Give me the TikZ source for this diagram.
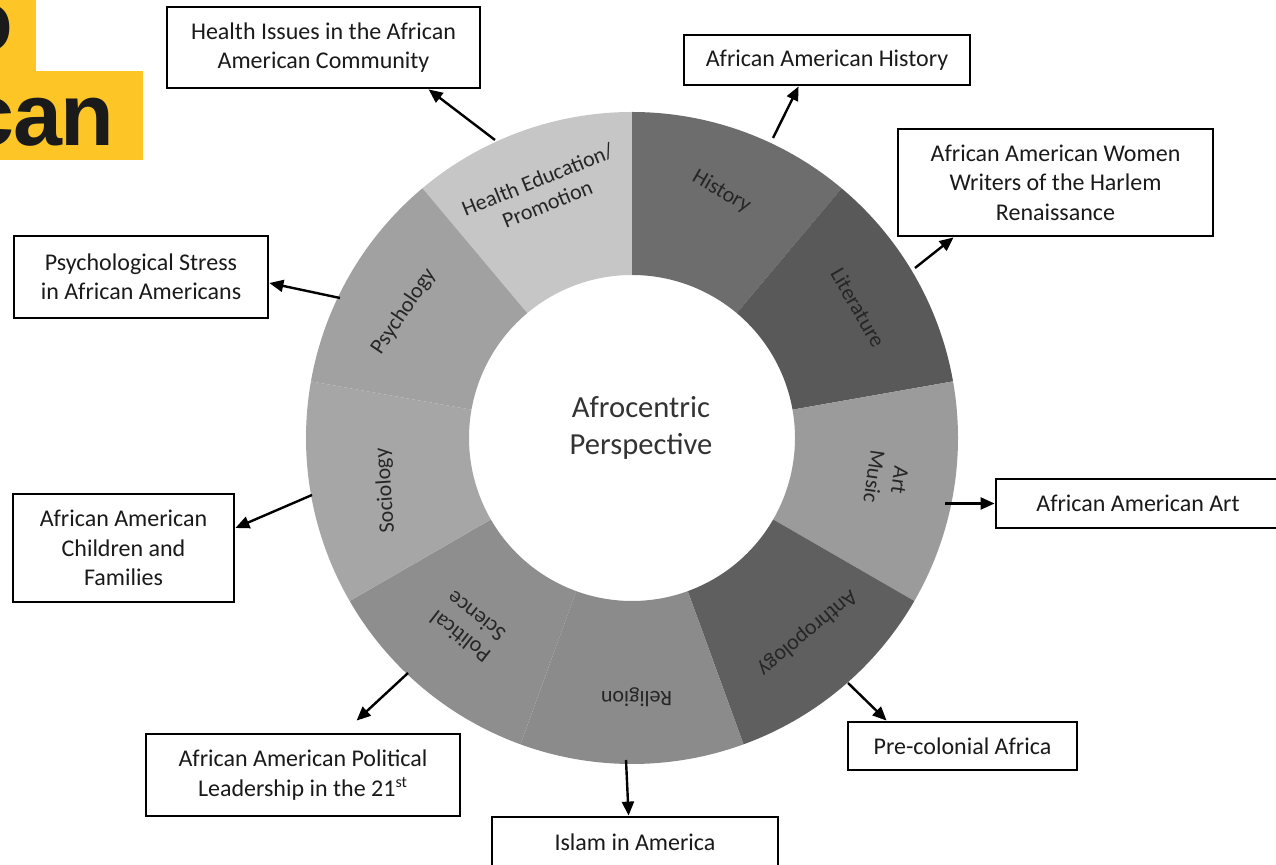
\documentclass[tikz,border=0pt]{standalone}
\usepackage{fontspec}
\setmainfont{Carlito}
\newfontfamily\arialfont[LetterSpace=-1.5]{Liberation Sans}
\usetikzlibrary{arrows.meta,calc}
\definecolor{yellowc}{HTML}{FDC526}
\definecolor{textdark}{HTML}{1A1A1A}
\definecolor{cHealth}{HTML}{C6C6C6}
\definecolor{cHist}{HTML}{6D6D6D}
\definecolor{cLit}{HTML}{595959}
\definecolor{cArt}{HTML}{9B9B9B}
\definecolor{cAnth}{HTML}{5F5F5F}
\definecolor{cRel}{HTML}{8B8B8B}
\definecolor{cPol}{HTML}{8E8E8E}
\definecolor{cSoc}{HTML}{A6A6A6}
\definecolor{cPsy}{HTML}{A1A1A1}
\newcommand\ringsector[3]{\fill[#1] (#2:326) arc[start angle=#2, end angle=#3, radius=326] -- (#3:163) arc[start angle=#3, end angle=#2, radius=163] -- cycle;}
\begin{document}
\begin{tikzpicture}[x=0.5pt,y=-0.5pt,
  box/.style={draw=black, line width=1.4pt, fill=white, align=center, text=textdark,
    font=\fontsize{12}{14.7}\selectfont, inner sep=0pt},
  arr/.style={line width=1.2pt, -{Triangle[length=7pt,width=6pt]}},
  seglabel/.style={align=center, font=\fontsize{11}{13}\selectfont, text=black!85, inner sep=0pt},
  ytext/.style={anchor=base east, inner sep=0pt, text=textdark,
    font=\arialfont\bfseries\fontsize{44}{44}\selectfont},
]
\useasboundingbox (0,0) rectangle (1276,865);
\clip (0,0) rectangle (1276,865);

% yellow overlay in the corner
\fill[yellowc] (0,0) rectangle (36,71);
\fill[yellowc] (0,71) rectangle (143,160);
\begin{scope}
  \clip (0,0) rectangle (36,71) (0,71) rectangle (143,160);
  \node[ytext] (ytop) at (14,52) {o};
  \node[ytext] (ybot) at (115,146) {can};
\end{scope}

% ring
\begin{scope}[shift={(632,438)}, x=0.5pt, y=0.5pt]
  \ringsector{cHealth}{90}{130}
  \ringsector{cHist}{50}{90}
  \ringsector{cLit}{10}{50}
  \ringsector{cArt}{-30}{10}
  \ringsector{cAnth}{-70}{-30}
  \ringsector{cRel}{-110}{-70}
  \ringsector{cPol}{-150}{-110}
  \ringsector{cSoc}{-190}{-150}
  \ringsector{cPsy}{130}{170}
  \node[align=center, text=black!80, font=\fontsize{15.3}{18.5}\selectfont] (center) at (9,10) {Afrocentric\\Perspective};
  \node[seglabel, rotate=22] (lHealth) at (110:262) {Health Education/\\Promotion};
  \node[seglabel, rotate=-30] (lHist) at (70:262) {History};
  \node[seglabel, rotate=-60] (lLit) at (30:261) {Literature};
  \node[seglabel, rotate=-98] (lArt) at (-9:258) {Art\\Music};
  \node[seglabel, rotate=-140] (lAnth) at (-48:262) {Anthropology};
  \node[seglabel, rotate=180] (lRel) at (-89:259) {Religion};
  \node[seglabel, rotate=142] (lPol) at (-131:250) {Political\\Science};
  \node[seglabel, rotate=94] (lSoc) at (-168:252) {Sociology};
  \node[seglabel, rotate=56] (lPsy) at (151:261) {Psychology};
\end{scope}

% arrow start points on the ring
\coordinate (sHealth) at (495,140);
\coordinate (sHist) at (773,138);
\coordinate (sLit) at (915,268);
\coordinate (sPsy) at (340,298);
\coordinate (sArt) at (945,503.5);
\coordinate (sSoc) at (312,495);
\coordinate (sAnth) at (848,683);
\coordinate (sPol) at (408,673);
\coordinate (sRel) at (626,760);

% boxes
\node[box, minimum width=156.5pt, minimum height=40.5pt] (bHealth) at (323.5,47.5) {Health Issues in the African\\American Community};
\node[box, minimum width=143pt, minimum height=25pt] (bHist) at (827,60) {African American History};
\node[box, minimum width=157.5pt, minimum height=53.5pt] (bLit) at (1055.5,182.5) {African American Women\\Writers of the Harlem\\Renaissance};
\node[box, minimum width=127pt, minimum height=41pt] (bPsy) at (141,277) {Psychological Stress\\in African Americans};
\node[box, minimum width=142pt, minimum height=24.5pt] (bArt) at (1138,503.5) {African American Art};
\node[box, minimum width=110.5pt, minimum height=54pt] (bChild) at (123.5,548) {African American\\Children and\\Families};
\node[box, minimum width=114.5pt, minimum height=24pt] (bPre) at (962.5,746) {Pre-colonial Africa};
\node[box, minimum width=157pt, minimum height=41pt] (bPol) at (303,775) {African American Political\\Leadership in the 21\textsuperscript{st}};
\node[box, minimum width=143pt, minimum height=25pt] (bIslam) at (635,842) {Islam in America};

% connectors
\draw[arr] (sHealth) -- ($(bHealth.south west)+(263,0)$);
\draw[arr] (sHist) -- ($(bHist.south west)+(116,0)$);
\draw[arr] (sLit) -- ($(bLit.south west)+(57,0)$);
\draw[arr] (sPsy) -- ($(bPsy.east)+(0,6)$);
\draw[arr] (sArt) -- (bArt.west);
\draw[arr] (sSoc) -- ($(bChild.east)+(0,-20)$);
\draw[arr] (sAnth) -- ($(bPre.north west)+(40,0)$);
\draw[arr] (sPol) -- ($(bPol.north west)+(212,-12)$);
\draw[arr] (sRel) -- ($(bIslam.north west)+(138,0)$);
\end{tikzpicture}
\end{document}
